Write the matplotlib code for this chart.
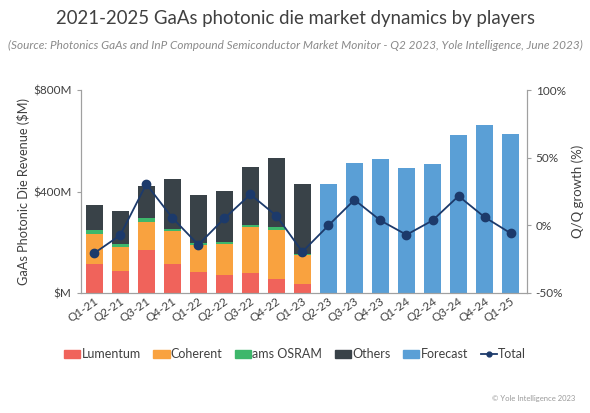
import matplotlib
matplotlib.use("Agg")
import matplotlib.pyplot as plt
import numpy as np
from matplotlib.lines import Line2D
from matplotlib.patches import Patch

quarters = ["Q1-21", "Q2-21", "Q3-21", "Q4-21", "Q1-22", "Q2-22", "Q3-22", "Q4-22",
            "Q1-23", "Q2-23", "Q3-23", "Q4-23", "Q1-24", "Q2-24", "Q3-24", "Q4-24", "Q1-25"]
lumentum = [116, 87, 170, 116, 84, 72, 80, 55, 37]
coherent = [118, 96, 112, 128, 104, 121, 181, 195, 112]
ams_osram = [16, 12, 14, 9, 11, 8, 8, 10, 6]
others = [99, 129, 128, 197, 187, 203, 230, 274, 274]
forecast = [432, 512, 530, 494, 511, 623, 662, 627]
growth = [-20.5, -7.2, 30.6, 5.7, -14.3, 5.2, 23.0, 7.2, -19.5,
          0.0, 19.0, 3.7, -6.9, 3.7, 21.8, 6.2, -5.7]

c_lum = "#F0635B"
c_coh = "#F9A23F"
c_ams = "#3EB76B"
c_oth = "#394248"
c_fc = "#5A9FD6"
c_tot = "#1C3A6B"
txt = "#404040"
spine_c = "#A0A0A0"

plt.rcParams['font.family'] = ['Lato', 'DejaVu Sans']

fig = plt.figure(figsize=(5.9, 4.13), dpi=100)
ax = fig.add_axes([0.1368, 0.2906, 0.7559, 0.4904])

n_act = len(lumentum)
x_act = np.arange(n_act)
x_fc = np.arange(n_act, len(quarters))
w = 0.67

lum = np.array(lumentum)
coh = np.array(coherent)
ams = np.array(ams_osram)
oth = np.array(others)
ax.bar(x_act, lum, w, color=c_lum, zorder=2)
ax.bar(x_act, coh, w, bottom=lum, color=c_coh, zorder=2)
ax.bar(x_act, ams, w, bottom=lum + coh, color=c_ams, zorder=2)
ax.bar(x_act, oth, w, bottom=lum + coh + ams, color=c_oth, zorder=2)
ax.bar(x_fc, forecast, w, color=c_fc, zorder=2)

ax.set_ylim(0, 800)
ax.set_yticks([0, 400, 800])
ax.set_yticklabels(["$M", "$400M", "$800M"])
ax.set_xlim(-0.52, len(quarters) - 1 + 0.62)
ax.set_xticks(np.arange(len(quarters)))
ax.set_xticklabels(quarters, rotation=35, ha="right", rotation_mode="anchor")
ax.set_ylabel("GaAs Photonic Die Revenue ($M)", color=txt, fontsize=9.2, labelpad=2)

ax2 = ax.twinx()
ax2.plot(np.arange(len(quarters)), growth, color=c_tot, lw=1.3, marker="o", ms=6, zorder=3)
ax2.set_ylim(-50, 100)
ax2.set_yticks([-50, 0, 50, 100])
ax2.set_yticklabels(["-50%", "0%", "50%", "100%"])
ax2.set_ylabel("Q/Q growth (%)", color=txt, fontsize=9.5)

for a in (ax, ax2):
    a.spines["top"].set_visible(False)
    for s in ("left", "right", "bottom"):
        a.spines[s].set_color(spine_c)
    a.tick_params(colors=txt, labelsize=8.5, length=3, width=0.8)
    a.tick_params(axis="y", colors=spine_c, labelcolor=txt)
ax.tick_params(axis="x", length=0, labelsize=8.5, pad=2)

handles = [Patch(color=c_lum), Patch(color=c_coh), Patch(color=c_ams), Patch(color=c_oth),
           Patch(color=c_fc), Line2D([0], [0], color=c_tot, marker="o", ms=3.5, lw=1.3)]
labels = ["Lumentum", "Coherent", "ams OSRAM", "Others", "Forecast", "Total"]
fig.legend(handles, labels, loc="center", bbox_to_anchor=(0.5, 0.143), ncol=6, frameon=False,
           fontsize=9, handlelength=1.3, handleheight=0.6, handletextpad=0.1, columnspacing=1.0,
           labelcolor=txt)

fig.text(0.5, 0.955, "2021-2025 GaAs photonic die market dynamics by players",
         ha="center", va="center", fontsize=13.4, color=txt)
fig.text(0.5, 0.89, "(Source: Photonics GaAs and InP Compound Semiconductor Market Monitor - Q2 2023, Yole Intelligence, June 2023)",
         ha="center", va="center", fontsize=8.5, color="#8A8A8A", style="italic")
fig.text(0.975, 0.036, "© Yole Intelligence 2023", ha="right", va="center", fontsize=5.5, color="#9A9A9A")

fig.savefig("out.png", dpi=100, facecolor="white")
